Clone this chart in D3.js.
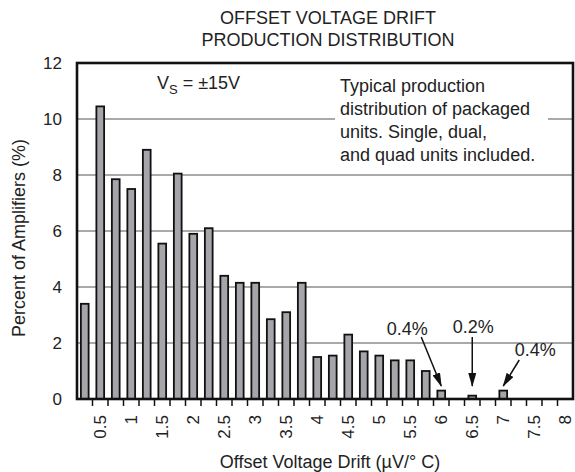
<!DOCTYPE html>
<html>
<head>
<meta charset="utf-8">
<script src="https://cdn.jsdelivr.net/npm/d3@7"></script>
<style>
  body { margin: 0; background: #fff; }
  svg text { font-family: "Liberation Sans", Arial, sans-serif; fill: #222; }
</style>
</head>
<body>
<div id="chart"></div>
<script>
// drift bins, every 0.25 uV/C
const categories = ["0.25", "0.5", "0.75", "1", "1.25", "1.5", "1.75", "2", "2.25", "2.5", "2.75", "3",
    "3.25", "3.5", "3.75", "4", "4.25", "4.5", "4.75", "5", "5.25", "5.5", "5.75", "6",
    "6.25", "6.5", "6.75", "7", "7.25", "7.5", "7.75", "8"];
const percents = [3.4, 10.45, 7.85, 7.5, 8.9, 5.55, 8.05, 5.9, 6.1, 4.4, 4.15, 4.15,
    2.85, 3.1, 4.15, 1.5, 1.55, 2.3, 1.7, 1.55, 1.38, 1.38, 1.0, 0.3,
    0, 0.12, 0, 0.3, 0, 0, 0, 0];
const xLabels = ["0.5", "1", "1.5", "2", "2.5", "3", "3.5", "4", "4.5", "5", "5.5", "6", "6.5", "7", "7.5", "8"];
const yTicks = [0, 2, 4, 6, 8, 10, 12];
const yGrid = [2, 4, 6, 8, 10];
const noteLines = ["Typical production", "distribution of packaged", "units. Single, dual,", "and quad units included."];
const calloutCats = ["6", "6.5", "7"];
const calloutLabels = ["0.4%", "0.2%", "0.4%"];

const width = 575, height = 472;
const plotLeft = 77, plotRight = 573, plotTop = 63, plotBottom = 399;

const svg = d3.select("#chart").append("svg")
    .attr("width", width)
    .attr("height", height);

const defs = svg.append("defs");
defs.append("marker")
    .attr("id", "head")
    .attr("viewBox", "0 0 14 8")
    .attr("refX", 13).attr("refY", 4)
    .attr("markerWidth", 14).attr("markerHeight", 8)
    .attr("markerUnits", "userSpaceOnUse")
    .attr("orient", "auto")
    .append("path")
    .attr("d", "M0,0 L14,4 L0,8 Z")
    .attr("fill", "#111");

let x = d3.scaleBand()
    .domain(categories)
    .range([plotLeft, plotRight])
    .paddingInner(0.5)
    .paddingOuter(0.25);

let y = d3.scaleLinear()
    .domain([0, 12])
    .range([plotBottom, plotTop]);

// gridlines
svg.append("g").selectAll("line")
    .data(yGrid)
    .enter()
    .append("line")
    .attr("x1", plotLeft).attr("x2", plotRight)
    .attr("y1", d => y(d)).attr("y2", d => y(d))
    .attr("stroke", "#555")
    .attr("stroke-width", 1.2);

// note text with white backing over the grid
svg.append("rect")
    .attr("x", 335).attr("y", 72)
    .attr("width", 213).attr("height", 95)
    .attr("fill", "#fff");

svg.append("g").selectAll("text")
    .data(noteLines)
    .enter()
    .append("text")
    .attr("x", 340)
    .attr("y", (d, i) => 92 + i * 23)
    .attr("font-size", 18)
    .text(d => d);

// supply voltage note
let vs = svg.append("text")
    .attr("x", 157).attr("y", 89)
    .attr("font-size", 18);
vs.append("tspan").text("V");
vs.append("tspan").attr("font-size", 13).attr("dy", 5).text("S");
vs.append("tspan").attr("dy", -5).text(" = \u00b115V");

// bars
svg.append("g").selectAll("rect")
    .data(categories.map((c, i) => ({ cat: c, val: percents[i] })).filter(d => d.val > 0))
    .enter()
    .append("rect")
    .attr("x", d => x(d.cat))
    .attr("y", d => y(d.val))
    .attr("width", x.bandwidth())
    .attr("height", d => y(0) - y(d.val))
    .attr("fill", "#a5a5aa")
    .attr("stroke", "#111")
    .attr("stroke-width", 1.8);

// frame
svg.append("rect")
    .attr("x", plotLeft).attr("y", plotTop)
    .attr("width", plotRight - plotLeft).attr("height", plotBottom - plotTop)
    .attr("fill", "none")
    .attr("stroke", "#111")
    .attr("stroke-width", 2.6);

// y tick labels
let yAxis = svg.append("g")
    .attr("transform", `translate(${plotLeft},0)`)
    .call(d3.axisLeft(y).tickValues(yTicks).tickSize(0).tickPadding(15));
yAxis.select(".domain").remove();
yAxis.selectAll("text")
    .attr("font-size", 17)
    .attr("font-family", "Liberation Sans, Arial, sans-serif")
    .attr("fill", "#222");

// x ticks at bin boundaries
const boundary = c => x(c) + x.bandwidth() / 2 - x.step() / 2;
svg.append("g").selectAll("line")
    .data(categories.slice(1))
    .enter()
    .append("line")
    .attr("x1", d => boundary(d)).attr("x2", d => boundary(d))
    .attr("y1", plotBottom).attr("y2", plotBottom + 7)
    .attr("stroke", "#111")
    .attr("stroke-width", 1.5);

svg.append("g").selectAll("text")
    .data(xLabels)
    .enter()
    .append("text")
    .attr("transform", d => `translate(${x(d) + x.bandwidth() / 2},415) rotate(-90)`)
    .attr("text-anchor", "end")
    .attr("dy", "0.35em")
    .attr("font-size", 17)
    .text(d => d);

// axis titles
svg.append("text")
    .attr("x", 330).attr("y", 468)
    .attr("text-anchor", "middle")
    .attr("font-size", 18)
    .text("Offset Voltage Drift (\u00b5V/\u00b0 C)");

svg.append("text")
    .attr("transform", "translate(25,238) rotate(-90)")
    .attr("text-anchor", "middle")
    .attr("font-size", 18)
    .text("Percent of Amplifiers (%)");

// title
svg.append("g").selectAll("text")
    .data(["OFFSET VOLTAGE DRIFT", "PRODUCTION DISTRIBUTION"])
    .enter()
    .append("text")
    .attr("x", 328)
    .attr("y", (d, i) => 24 + i * 22)
    .attr("text-anchor", "middle")
    .attr("font-size", 18)
    .text(d => d);

// callouts for the small tail bins
const tailDx = [-20, 0, 16];
const tailY = [337, 337, 360];
const labelDx = [-14, 1, 16];
const labelY = [335, 333, 356];
let callouts = svg.append("g").selectAll("g")
    .data(calloutCats)
    .enter()
    .append("g");

callouts.append("line")
    .attr("x1", (d, i) => x(d) + x.bandwidth() / 2 + tailDx[i])
    .attr("y1", (d, i) => tailY[i])
    .attr("x2", d => x(d) + x.bandwidth() / 2)
    .attr("y2", y(0) - 13)
    .attr("stroke", "#111")
    .attr("stroke-width", 1.5)
    .attr("marker-end", "url(#head)");

callouts.append("text")
    .attr("x", (d, i) => x(d) + x.bandwidth() / 2 + tailDx[i] + labelDx[i])
    .attr("y", (d, i) => labelY[i])
    .attr("text-anchor", "middle")
    .attr("font-size", 18)
    .text((d, i) => calloutLabels[i]);
</script>
</body>
</html>
